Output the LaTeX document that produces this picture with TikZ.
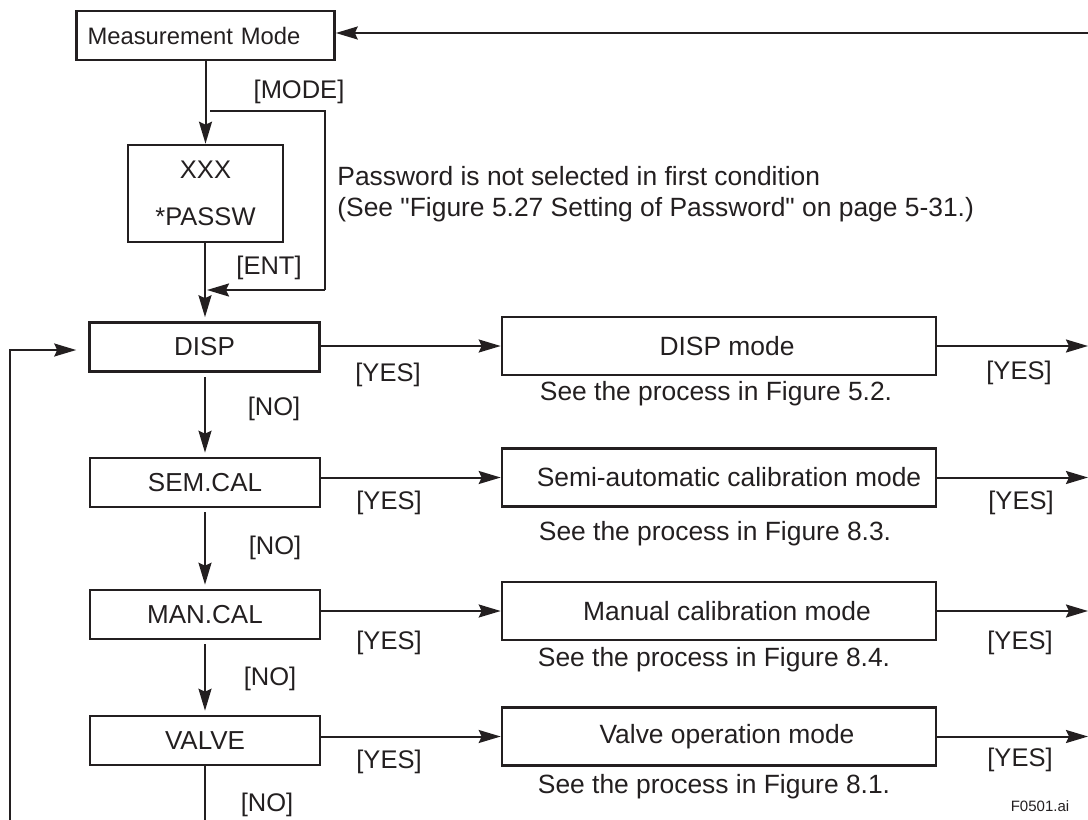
\documentclass[tikz,border=0pt]{standalone}
\usepackage{fontspec}
\setmainfont{Liberation Sans}
\newfontfamily\plainfont[Ligatures=TeXOff]{Liberation Sans}
\usetikzlibrary{arrows.meta}
\definecolor{ink}{RGB}{35,31,32}
\begin{document}
\begin{tikzpicture}[x=0.5pt,y=-0.5pt,
  every node/.style={text=ink},
  lbox/.style={draw=ink, line width=1.3pt, minimum width=115pt, minimum height=24.5pt, inner sep=0pt, font=\fontsize{13}{15}\selectfont},
  rbox/.style={draw=ink, line width=1.3pt, minimum width=217pt, minimum height=29pt, inner sep=0pt, font=\fontsize{13.2}{15}\selectfont},
  lbl/.style={inner sep=0pt, font=\fontsize{12.75}{15}\selectfont},
  note/.style={inner sep=0pt, font=\fontsize{13.2}{15}\selectfont},
  conn/.style={draw=ink, line width=1pt},
  arr/.style={conn, -{Stealth[length=11pt,width=6.5pt,inset=1.5pt]}}
]
\useasboundingbox (0,0) rectangle (1088,820);

% top boxes
\node[draw=ink, line width=1.3pt, text width=118pt, inner xsep=5.5pt, minimum height=24.5pt, inner ysep=0pt, align=left, font=\fontsize{11.9}{14}\selectfont] (mm) at (205.5,35.5) {Measurement Mode};
\node[draw=ink, line width=1.3pt, minimum width=77.5pt, minimum height=48.5pt, inner sep=0pt, align=center, font=\fontsize{12.75}{15}\selectfont] (pw) at (205.5,193.5) {XXX\\[8.3pt]*PASSW};

% left column
\node[lbox] (disp) at (204.5,347) {DISP};
\node[lbox] (sem) at (205,482.5) {SEM.CAL};
\node[lbox] (man) at (205,614.5) {MAN.CAL};
\node[lbox] (valve) at (205,740.5) {VALVE};

% right column
\node[rbox] (dispm) at (719,346) {\hspace*{8pt}DISP mode};
\node[rbox] (semm) at (719,477.5) {\hspace*{10pt}Semi-automatic calibration mode};
\node[rbox] (manm) at (719,611) {\hspace*{8pt}Manual calibration mode};
\node[rbox] (valvem) at (719,736.5) {\hspace*{8pt}Valve operation mode};

% coordinates
\coordinate (topr) at (1088,33);
\coordinate (bp1) at (210,111);
\coordinate (bp2) at (325,111);
\coordinate (bp3) at (325,290);
\coordinate (bp4) at (207,290);
\coordinate (loopb) at (10,820);
\coordinate (bot) at (205,820);
\coordinate (o1) at (1088,346);
\coordinate (o2) at (1088,477.5);
\coordinate (o3) at (1088,611);
\coordinate (o4) at (1088,736.5);

% connectors
\draw[arr] (topr) -- (mm.east |- topr);
\draw[arr] (mm.south -| pw.north) -- (pw.north);
\draw[conn] (bp1) -- (bp2) -- (bp3);
\draw[arr] (bp3) -- (bp4);
\draw[arr, shorten >=2pt] (pw.south -| 205,0) -- (disp.north -| 205,0);
\draw[arr, shorten >=6pt] (loopb) |- ([yshift=-1.5pt]disp.west);
\draw[arr, shorten <=2pt, shorten >=2pt] (disp.south -| 205,0) -- (sem.north -| 205,0);
\draw[arr, shorten <=2pt, shorten >=2pt] (sem.south -| 205,0) -- (man.north -| 205,0);
\draw[arr, shorten <=2pt, shorten >=2pt] (man.south -| 205,0) -- (valve.north -| 205,0);
\draw[conn] (valve.south -| bot) -- (bot);

\draw[arr] (disp.east |- dispm.west) -- (dispm.west);
\draw[arr] (sem.east |- semm.west) -- (semm.west);
\draw[arr] (man.east |- manm.west) -- (manm.west);
\draw[arr] (valve.east |- valvem.west) -- (valvem.west);
\draw[arr] (dispm.east) -- (o1);
\draw[arr] (semm.east) -- (o2);
\draw[arr] (manm.east) -- (o3);
\draw[arr] (valvem.east) -- (o4);

% labels
\node[lbl] (lmode) at (299,92) {[MODE]};
\node[lbl] (lent) at (269,268) {[ENT]};
\node[inner sep=0pt, anchor=west, align=left, font=\plainfont\fontsize{13.2}{15.5}\selectfont] (pwnote) at (337,194) {Password is not selected in first condition\\(See "Figure 5.27 Setting of Password" on page 5-31.)};

\node[lbl] (y1) at (388,375) {[YES]};
\node[lbl] (y2) at (389,503) {[YES]};
\node[lbl] (y3) at (389,643) {[YES]};
\node[lbl] (y4) at (389,762) {[YES]};
\node[lbl] (yr1) at (1019,373) {[YES]};
\node[lbl] (yr2) at (1021,503) {[YES]};
\node[lbl] (yr3) at (1020,643) {[YES]};
\node[lbl] (yr4) at (1020,760) {[YES]};
\node[lbl] (n1) at (274,409) {[NO]};
\node[lbl] (n2) at (275,548) {[NO]};
\node[lbl] (n3) at (270,679) {[NO]};
\node[lbl] (n4) at (267,805) {[NO]};

\node[note] (s1) at (716,394) {See the process in Figure 5.2.};
\node[note] (s2) at (715,534) {See the process in Figure 8.3.};
\node[note] (s3) at (714,660) {See the process in Figure 8.4.};
\node[note] (s4) at (714,787) {See the process in Figure 8.1.};

\node[inner sep=0pt, font=\fontsize{7.5}{9}\selectfont] (tag) at (1040,806) {F0501.ai};
\end{tikzpicture}
\end{document}
